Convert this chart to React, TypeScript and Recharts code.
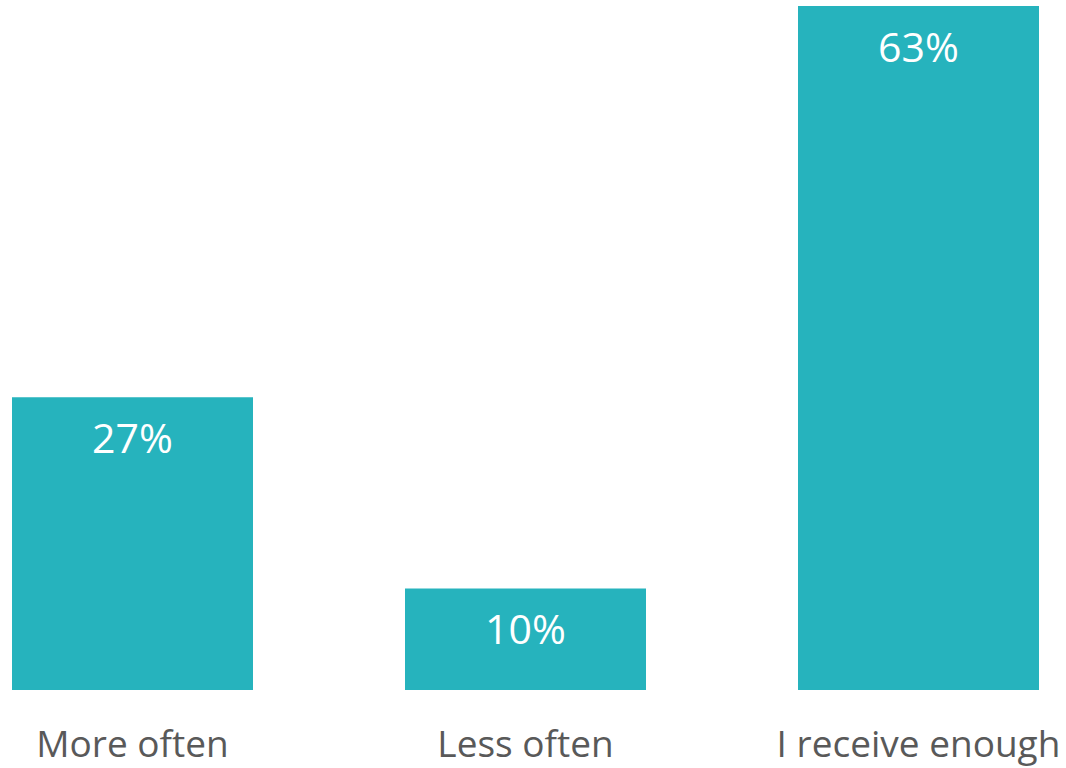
import { BarChart, Bar, XAxis, YAxis, LabelList } from 'recharts'

const categories = ['More often', 'Less often', 'I receive enough']
const shares = [27.1, 9.4, 63.3]
const shareLabels = ['27%', '10%', '63%']

const data = categories.map((name, i) => ({ name, value: shares[i], label: shareLabels[i] }))

const FONT = '"Open Sans", "Noto Sans", sans-serif'

const ValueLabel = (props: any) => {
  const { x, y, width, index } = props
  return (
    <text x={x + width / 2} y={y + 56} textAnchor="middle" fill="#ffffff" fontSize={41} fontFamily={FONT}>
      {shareLabels[index]}
    </text>
  )
}

const CategoryTick = ({ x, y, payload }: any) => (
  <text x={x} y={y + 67} textAnchor="middle" fill="#595959" fontSize={37} fontFamily={FONT}>
    {payload.value}
  </text>
)

export default function App() {
  return (
    <div style={{ position: 'absolute', left: 0, top: 0, width: 1066, height: 768, overflow: 'hidden', background: '#fff' }}>
      <div style={{ position: 'absolute', left: -64, top: 6 }}>
        <BarChart
          width={1179}
          height={762}
          data={data}
          margin={{ top: 0, right: 0, bottom: 48, left: 0 }}
          barCategoryGap={76}
        >
          <XAxis
            dataKey="name"
            height={30}
            axisLine={false}
            tickLine={false}
            tickSize={0}
            tickMargin={0}
            interval={0}
            tick={<CategoryTick />}
          />
          <YAxis hide domain={[0, 63.3]} />
          <Bar dataKey="value" fill="#26b3bd" isAnimationActive={false}>
            <LabelList dataKey="label" content={<ValueLabel />} />
          </Bar>
        </BarChart>
      </div>
    </div>
  )
}
